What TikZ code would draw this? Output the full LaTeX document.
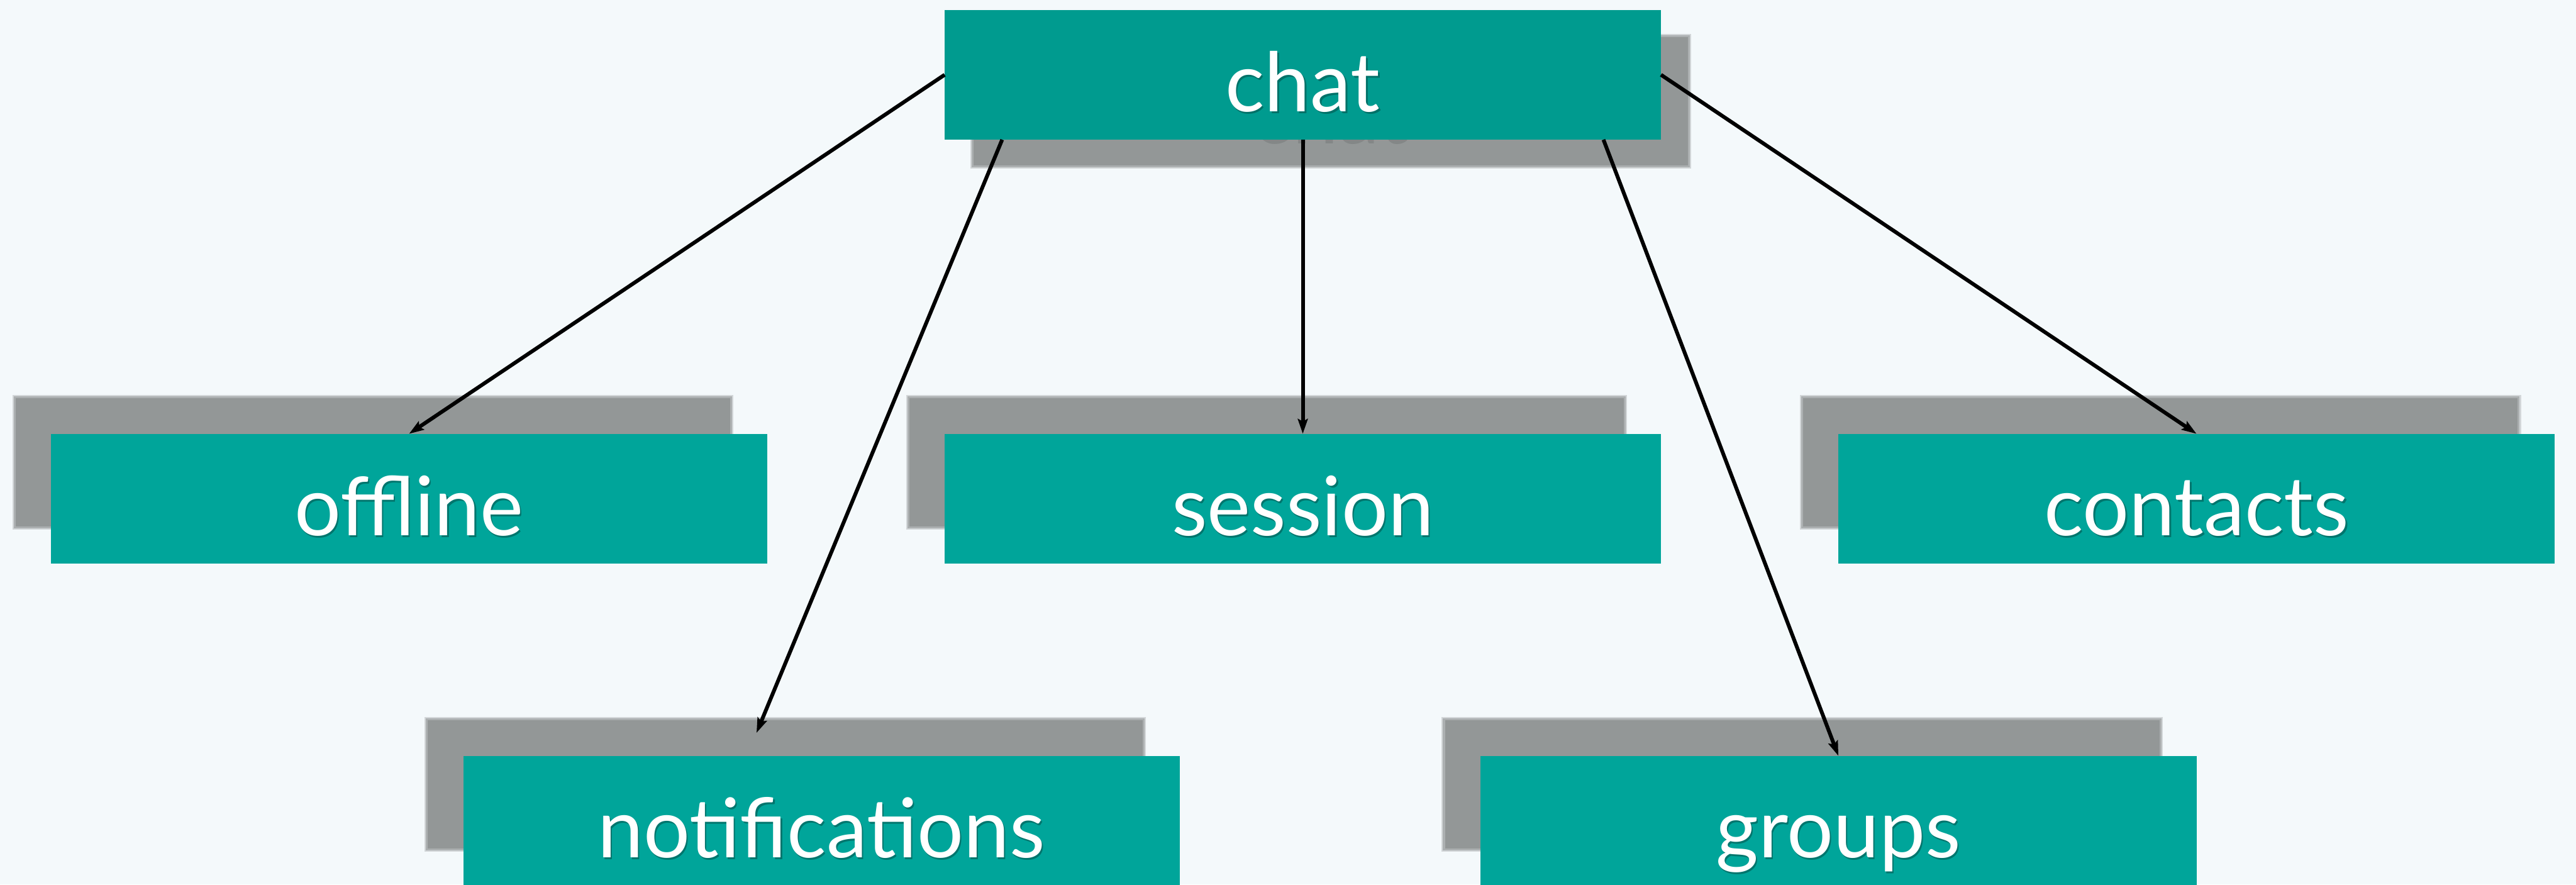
\documentclass[tikz,border=0pt]{standalone}
\usepackage{fontspec}
\setmainfont{Lato}
\usetikzlibrary{arrows.meta,calc}

\definecolor{bg}{HTML}{F4F9FB}
\definecolor{rootfill}{HTML}{009B8F}
\definecolor{boxfill}{HTML}{00A59A}
\definecolor{shadowgray}{HTML}{939797}
\definecolor{shadowtext}{HTML}{838787}
\definecolor{textdark}{HTML}{00564F}

\tikzset{
  box/.style={rectangle, minimum width=436pt, minimum height=79pt,
              inner sep=0pt, outer sep=0pt, fill=boxfill},
  rootbox/.style={box, fill=rootfill},
  lbl/.style={anchor=base, text=white, inner sep=0pt,
              font=\fontsize{50}{60}\selectfont},
  lbldark/.style={lbl, text=textdark, opacity=0.6},
  ghost/.style={lbl, text=shadowtext},
  link/.style={line width=2.3pt, -{Stealth[length=9pt,width=6pt,inset=1.5pt]}}
}

% soft-edged drop shadow: centre x, centre y, shift x, shift y
\newcommand\softshadow[4]{%
  \fill[shadowgray, opacity=0.35] ($(#1+#3,#2+#4)+(-219.5,-41)$) rectangle ($(#1+#3,#2+#4)+(219.5,41)$);
  \fill[shadowgray, opacity=0.6]  ($(#1+#3,#2+#4)+(-218.7,-40.2)$) rectangle ($(#1+#3,#2+#4)+(218.7,40.2)$);
  \fill[shadowgray] ($(#1+#3,#2+#4)+(-217.5,-39)$) rectangle ($(#1+#3,#2+#4)+(217.5,39)$);
}

% white label with a faint dark drop shadow
\newcommand\boxlabel[3]{%
  \node[lbldark] at ($(#1)+(0.9,23.5)$) {#3};
  \node[lbl] (#2) at ($(#1)+(0,22.5)$) {#3};
}

\begin{document}
\begin{tikzpicture}[x=1pt, y=-1pt]
  \fill[bg] (0,0) rectangle (1568,538.4);
  \useasboundingbox (0,0) rectangle (1568,538.4);
  \clip (0,0) rectangle (1568,538.4);

  % shadows
  \softshadow{793}{45.5}{17}{16}
  \softshadow{249}{303.5}{-22}{-22}
  \softshadow{793}{303.5}{-22}{-22}
  \softshadow{1337}{303.5}{-22}{-22}
  \softshadow{500}{499.5}{-22}{-22}
  \softshadow{1119}{499.5}{-22}{-22}

  % shadow of the root label, peeking below the root box
  \node[ghost] (chatghost) at (810,87.5) {chat};

  % boxes
  \node[rootbox] (chat)     at (793,45.5)  {};
  \node[box]     (offline)  at (249,303.5) {};
  \node[box]     (session)  at (793,303.5) {};
  \node[box]     (contacts) at (1337,303.5) {};
  \node[box]     (notif)    at (500,499.5) {};
  \node[box]     (groups)   at (1119,499.5) {};

  % labels
  \boxlabel{chat}{chatlbl}{chat}
  \boxlabel{offline}{offlinelbl}{offline}
  \boxlabel{session}{sessionlbl}{session}
  \boxlabel{contacts}{contactslbl}{contacts}
  \boxlabel{notif}{notiflbl}{notifications}
  \boxlabel{groups}{groupslbl}{groups}

  % connectors
  \coordinate (notifend) at (460.5,446);
  \draw[link] (chat.west) -- (offline.north);
  \draw[link] ($(chat.south west)+(35,0)$) -- (notifend);
  \draw[link] (chat.south) -- (session.north);
  \draw[link] ($(chat.south east)+(-35,0)$) -- (groups.north);
  \draw[link] (chat.east) -- (contacts.north);
\end{tikzpicture}
\end{document}
